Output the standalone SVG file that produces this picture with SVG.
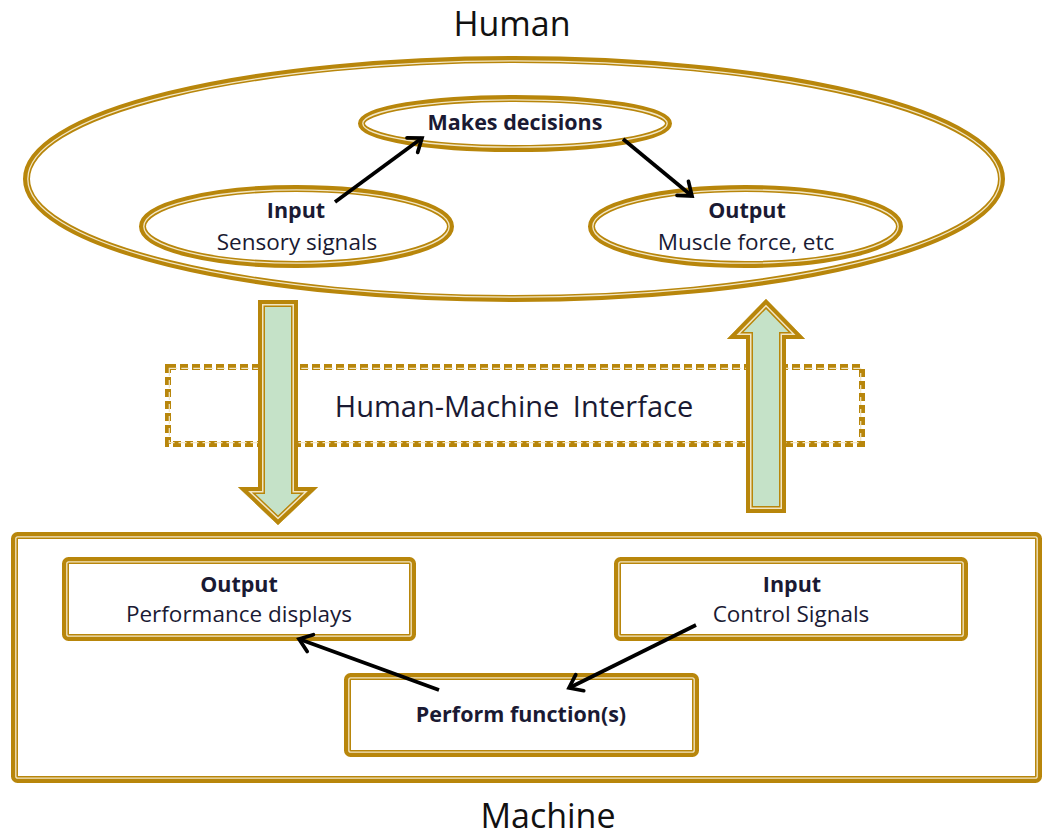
<svg xmlns="http://www.w3.org/2000/svg" width="1043" height="839" viewBox="0 0 1043 839">
<style>
.g{fill:none;stroke:#B8860B;stroke-width:7}
.l{fill:none;stroke:#F2E6C4;stroke-width:1.3}
.gd{fill:none;stroke:#B8860B;stroke-width:6;stroke-dasharray:8 4}
.ld{fill:none;stroke:#F2E6C4;stroke-width:1.2;stroke-dasharray:8 4}
.t{font-family:"Open Sans","Noto Sans","Liberation Sans",sans-serif;fill:#1A1A33;text-anchor:middle}
.b{font-weight:bold;font-size:21.5px}
.r{font-size:22.5px}
.big{fill:#111}
.conn{fill:none;stroke:#000;stroke-width:3.7;marker-end:url(#chev)}
</style>
<defs>
<marker id="chev" markerUnits="userSpaceOnUse" viewBox="-16 -12 20 24" markerWidth="20" markerHeight="24" refX="0" refY="0" orient="auto">
<path d="M-12,-9 L0,0 L-12,9" fill="none" stroke="#000" stroke-width="3.7" stroke-linecap="round" stroke-linejoin="miter"/>
</marker>
<clipPath id="cDown"><polygon points="258,300 298,300 298,487 318,487 278,525 238,487 258,487"/></clipPath>
<clipPath id="cUp"><polygon points="746,513 746,339 727,339 766,299 805,339 786,339 786,513"/></clipPath>
</defs>

<text class="t big" x="512" y="36" font-size="34">Human</text>
<text class="t big" x="548" y="828" font-size="34">Machine</text>

<g id="human">
<ellipse class="g" cx="514" cy="179" rx="487.5" ry="119.5"/>
<ellipse class="l" cx="514" cy="179" rx="486.2" ry="118.2"/>
</g>

<g id="makes-decisions">
<ellipse cx="515" cy="123.5" rx="153.5" ry="25" fill="#fff"/>
<ellipse class="g" cx="515" cy="123.5" rx="153.5" ry="25"/>
<ellipse class="l" cx="515" cy="123.5" rx="152.2" ry="23.7"/>
<text class="t b" x="515" y="130">Makes decisions</text>
</g>

<g id="human-input">
<ellipse cx="296.5" cy="226.5" rx="154" ry="38" fill="#fff"/>
<ellipse class="g" cx="296.5" cy="226.5" rx="154" ry="38"/>
<ellipse class="l" cx="296.5" cy="226.5" rx="152.7" ry="36.7"/>
<text class="t b" x="296" y="218">Input</text>
<text class="t r" x="297" y="250">Sensory signals</text>
</g>

<g id="human-output">
<ellipse cx="745.5" cy="226.5" rx="154" ry="38" fill="#fff"/>
<ellipse class="g" cx="745.5" cy="226.5" rx="154" ry="38"/>
<ellipse class="l" cx="745.5" cy="226.5" rx="152.7" ry="36.7"/>
<text class="t b" x="747" y="218">Output</text>
<text class="t r" x="746" y="250">Muscle force, etc</text>
</g>

<g id="interface">
<rect class="gd" x="168" y="367" width="694" height="77"/>
<rect class="ld" x="169.3" y="368.3" width="691.4" height="74.4"/>
<text class="t" x="514" y="417" font-size="29" word-spacing="6" fill="#111">Human-Machine Interface</text>
</g>

<g id="flow-down">
<polygon points="258,300 298,300 298,487 318,487 278,525 238,487 258,487" fill="#C5E2C8"/>
<g clip-path="url(#cDown)" fill="none">
<polygon points="258,300 298,300 298,487 318,487 278,525 238,487 258,487" stroke="#B8860B" stroke-width="14"/>
<polygon points="258,300 298,300 298,487 318,487 278,525 238,487 258,487" stroke="#F2E6C4" stroke-width="11"/>
<polygon points="258,300 298,300 298,487 318,487 278,525 238,487 258,487" stroke="#B8860B" stroke-width="8"/>
</g>
</g>

<g id="flow-up">
<polygon points="746,513 746,339 727,339 766,299 805,339 786,339 786,513" fill="#C5E2C8"/>
<g clip-path="url(#cUp)" fill="none">
<polygon points="746,513 746,339 727,339 766,299 805,339 786,339 786,513" stroke="#B8860B" stroke-width="14"/>
<polygon points="746,513 746,339 727,339 766,299 805,339 786,339 786,513" stroke="#F2E6C4" stroke-width="11"/>
<polygon points="746,513 746,339 727,339 766,299 805,339 786,339 786,513" stroke="#B8860B" stroke-width="8"/>
</g>
</g>

<g id="machine">
<rect class="g" x="14.5" y="535.5" width="1024" height="244" rx="3"/>
<rect class="l" x="15.8" y="536.8" width="1021.4" height="241.4" rx="2"/>
</g>

<g id="machine-output">
<rect class="g" x="65.5" y="560.5" width="347" height="77" rx="3"/>
<rect class="l" x="66.8" y="561.8" width="344.4" height="74.4" rx="2"/>
<text class="t b" x="239" y="592">Output</text>
<text class="t r" x="239" y="622">Performance displays</text>
</g>

<g id="machine-input">
<rect class="g" x="617.5" y="560.5" width="347" height="77" rx="3"/>
<rect class="l" x="618.8" y="561.8" width="344.4" height="74.4" rx="2"/>
<text class="t b" x="792" y="592">Input</text>
<text class="t r" x="791" y="622">Control Signals</text>
</g>

<g id="perform">
<rect class="g" x="347.5" y="676.5" width="348" height="77" rx="3"/>
<rect class="l" x="348.8" y="677.8" width="345.4" height="74.4" rx="2"/>
<text class="t b" x="521" y="722">Perform function(s)</text>
</g>

<g id="connectors">
<line class="conn" x1="335" y1="202" x2="422" y2="138"/>
<line class="conn" x1="623" y1="139" x2="692" y2="196"/>
<line class="conn" x1="696" y1="625" x2="569" y2="688"/>
<line class="conn" x1="439" y1="690" x2="299" y2="639"/>
</g>
</svg>
